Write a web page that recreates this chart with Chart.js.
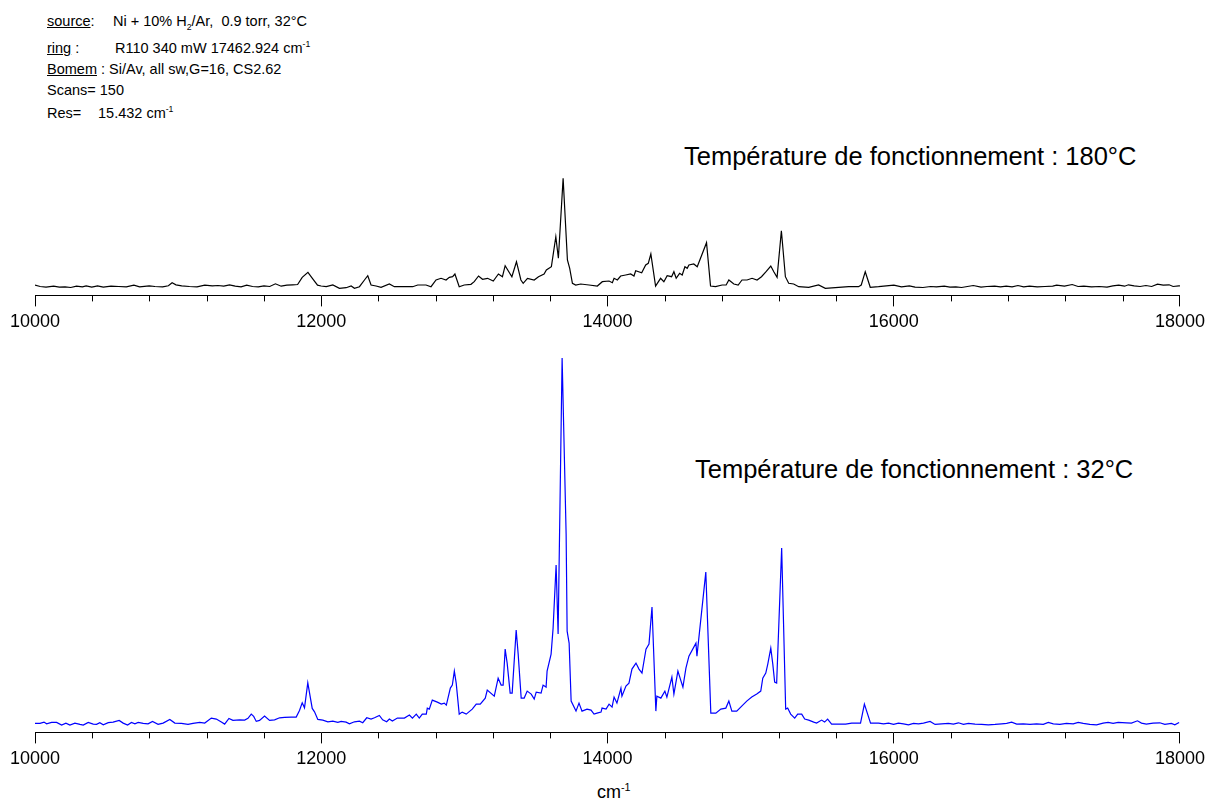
<!DOCTYPE html>
<html>
<head>
    <title>Spectres</title>
    <script src="https://cdn.jsdelivr.net/npm/chart.js"></script>
    <style>
        body { margin: 0; background: #fff; font-family: "Liberation Sans", Arial, sans-serif; color: #000; }
        .abs { position: absolute; white-space: pre; line-height: 1; }
        .hdr { font-size: 14.5px; }
        .big { font-size: 25.5px; }
        sub, sup { font-size: 60%; line-height: 0; }
        canvas { position: absolute; left: 0; }
    </style>
</head>
<body>
<div class="abs hdr" style="left:47px; top:14px;"><u>source</u>:</div>
<div class="abs hdr" style="left:113px; top:14px;">Ni + 10% H<sub>2</sub>/Ar,  0.9 torr, 32°C</div>
<div class="abs hdr" style="left:47px; top:41px;"><u>ring</u> :</div>
<div class="abs hdr" style="left:115px; top:41px;">R110 340 mW 17462.924 cm<sup>-1</sup></div>
<div class="abs hdr" style="left:47px; top:62px;"><u>Bomem</u> : Si/Av, all sw,G=16, CS2.62</div>
<div class="abs hdr" style="left:47px; top:83px;">Scans= 150</div>
<div class="abs hdr" style="left:47px; top:106px;">Res=</div>
<div class="abs hdr" style="left:98px; top:106px;">15.432 cm<sup>-1</sup></div>

<div class="abs big" style="left:684px; top:144px;">Température de fonctionnement : 180°C</div>
<div class="abs big" style="left:695px; top:457px;">Température de fonctionnement : 32°C</div>
<div class="abs" style="left:597px; top:783px; font-size:18px;">cm<sup>-1</sup></div>

<canvas id="hot" width="1210" height="178" style="top:160px;"></canvas>
<canvas id="cold" width="1210" height="435" style="top:340px;"></canvas>

<script>
    // 180°C spectrum (black, top)
    const topWavenumber = [10000, 10036, 10077, 10130, 10170, 10210, 10250, 10290, 10331, 10357, 10397, 10437, 10477, 10531, 10585, 10638, 10691, 10731, 10798, 10838, 10892, 10932, 10958, 10985, 11025, 11079, 11132, 11186, 11239, 11279, 11319, 11359, 11399, 11440, 11479, 11520, 11560, 11600, 11640, 11680, 11720, 11760, 11800, 11835, 11867, 11907, 11942, 11974,
        11999, 12035, 12081, 12127, 12174, 12209, 12232, 12267, 12302, 12325, 12348, 12383, 12418, 12476, 12511, 12569, 12639, 12674, 12732, 12767, 12802, 12837, 12872, 12895, 12918, 12934, 12964, 12999, 13046, 13069, 13099, 13127, 13162, 13202, 13238, 13266, 13285, 13332, 13364, 13395, 13411, 13441, 13488, 13518, 13557, 13573, 13608, 13639, 13657, 13690, 13720, 13736, 13755, 13778, 13813, 13871, 13929, 13964,
        14011, 14034, 14046, 14069, 14092, 14127, 14162, 14185, 14197, 14239, 14267, 14285, 14303, 14336, 14371, 14394, 14417, 14448, 14464, 14480, 14504, 14522, 14541, 14557, 14569, 14603, 14627, 14650, 14692, 14720, 14755, 14801, 14829, 14848, 14883, 14913, 14940, 14975, 15010, 15045, 15076, 15108, 15141, 15162, 15185, 15215, 15243, 15266, 15301, 15336, 15406, 15475, 15522, 15615, 15685, 15754, 15773, 15801, 15836, 15894,
        16001, 16054, 16109, 16149, 16204, 16258, 16298, 16353, 16393, 16434, 16474, 16515, 16556, 16610, 16651, 16705, 16746, 16786, 16827, 16868, 16908, 16949, 17003, 17057, 17111, 17138, 17193, 17247, 17288, 17328, 17382, 17437, 17490, 17531, 17572, 17613, 17640, 17680, 17721, 17762, 17802, 17843, 17883, 17924, 17952, 17992, 18000];
    const topIntensity = [1.3, 0, -0.7, 0.3, -0.7, -0.3, -1.0, 0.3, -0.3, 0.7, -0.7, 0.7, -0.7, 0.3, 0, -0.3, 1.3, -0.3, 0.7, 0, -0.3, 0.7, 3.7, 1.7, 0.7, 0, -0.3, 1.3, 0.7, 1.0, 0.3, 1.7, 0.3, -0.3, 1.3, 0, -0.3, 0.7, 0, 2.7, 0.3, 1.3, 1.7, 2.0, 9.1, 14.1, 7.4, 1.3,
        0.5, -0.2, 1.5, -1.8, -1.2, 0.5, -1.8, -0.2, 6.5, 10.8, 1.5, 0.5, -0.8, 2.5, -0.2, -0.2, -0.2, 1.5, 1.5, -0.2, 6.5, 8.2, 6.5, 9.2, 9.8, 12.5, -0.2, 1.5, 2.2, 4.8, 10.5, 7.2, 8.2, 5.5, 12.5, 9.8, 20.8, 9.8, 24.8, 6.5, 3.2, 8.2, 6.5, 9.8, 12.5, 16.5, 19.8, 49.8, 28.2, 108.2, 26.5, 18.2, 3.2, 1.5, 2.5, 1.5, 0.5, 4.8,
        5.5, 3.8, 8.2, 6.5, 10.5, 11.5, 12.5, 10.5, 15.8, 13.8, 21.5, 23.2, 32.5, 0.5, 8.2, 4.8, 10.8, 9.8, 14.8, 8.2, 13.2, 11.5, 19.8, 18.2, 21.5, 22.5, 19.8, 28.2, 43.8, 0.5, -0.2, 1.5, 1.5, 6.5, 2.5, 1.5, 6.5, 6.5, 8.2, 6.5, 9.8, 14.8, 20.5, 14.8, 9.2, 55.8, 9.8, 3.2, 2.5, -0.2, -0.8, 1.5, -1.8, -0.8, -0.2, -0.2, 1.5, 14.8, -0.8, -0.2,
        1.3, -0.3, 0.7, -0.7, -1.0, 0, -0.3, 0.3, -0.7, -0.3, -1.0, 0, 1.0, -0.7, 0, 0.3, -0.3, 0.3, -0.3, 1.0, -0.3, 0.3, -0.3, 0, 0.3, 1.3, 0.3, 2.0, 0, 0.3, -0.3, 0, -0.7, 0.7, 1.3, 0.3, 1.7, 0.7, 0, 1.0, 0, 2.3, 1.3, 1.7, 0, 0.7, 0.7];

    // 32°C spectrum (blue, bottom)
    const bottomWavenumber = [10000, 10035, 10063, 10081, 10116, 10151, 10186, 10216, 10244, 10279, 10314, 10337, 10372, 10407, 10430, 10453, 10477, 10512, 10546, 10588, 10616, 10647, 10674, 10698, 10721, 10756, 10790, 10821, 10860, 10895, 10942, 10977, 11023, 11069, 11104, 11151, 11186, 11232, 11267, 11302, 11325, 11355, 11383, 11430, 11465, 11488, 11511, 11528, 11546, 11569, 11604, 11639, 11674, 11709, 11744, 11790, 11825, 11848, 11867, 11883, 11906, 11937, 11953, 11976,
        12011, 12046, 12081, 12116, 12139, 12174, 12197, 12232, 12267, 12290, 12318, 12348, 12372, 12406, 12429, 12457, 12476, 12497, 12532, 12581, 12616, 12637, 12664, 12685, 12706, 12734, 12741, 12755, 12776, 12811, 12839, 12860, 12874, 12902, 12916, 12930, 12943, 12964, 12985, 13013, 13055, 13083, 13111, 13146, 13160, 13209, 13236, 13257, 13271, 13285, 13299, 13320, 13334, 13362, 13376, 13397, 13418, 13439, 13467, 13488, 13502, 13536, 13550, 13571, 13578, 13606, 13620, 13641, 13655, 13683, 13711, 13718, 13732, 13746, 13780, 13801, 13822, 13857, 13885, 13906, 13927, 13955, 13962, 13990,
        14011, 14032, 14046, 14066, 14094, 14101, 14129, 14150, 14171, 14199, 14220, 14241, 14269, 14290, 14311, 14338, 14345, 14373, 14401, 14415, 14450, 14464, 14492, 14527, 14548, 14569, 14618, 14625, 14687, 14722, 14757, 14792, 14827, 14848, 14869, 14903, 14938, 14973, 15008, 15043, 15071, 15085, 15106, 15120, 15141, 15155, 15168, 15182, 15217, 15245, 15259, 15280, 15308, 15329, 15357, 15378, 15406, 15441, 15461, 15496, 15517, 15538, 15566, 15615, 15664, 15706, 15768, 15795, 15838, 15894, 15929, 15964,
        15999, 16033, 16068, 16103, 16138, 16173, 16208, 16254, 16289, 16335, 16382, 16417, 16452, 16487, 16522, 16568, 16614, 16661, 16708, 16754, 16789, 16824, 16859, 16905, 16952, 16998, 17045, 17080, 17115, 17161, 17207, 17254, 17289, 17324, 17370, 17417, 17463, 17498, 17533, 17568, 17626, 17661, 17703, 17731, 17765, 17812, 17859, 17894, 17940, 17964, 17994, 18000];
    const bottomIntensity = [0, 0, 1.3, -0.4, 1.0, 1.0, -1.7, 0.3, -1.7, 0.3, -1.0, -1.7, 1.0, -0.7, -1.0, 0.7, -1.4, 0.7, 1.3, 3.0, 0.3, -1.7, 1.0, -0.4, 1.0, 0, -0.4, 2.0, -1.0, 0.3, 4.0, 0.3, 0, -1.0, 0, 1.0, 0.3, 5.3, 4.3, 1.3, -0.7, 5.0, 3.0, 3.6, 3.3, 5.0, 9.3, 7.0, 2.0, 3.0, 7.3, 3.0, 3.6, 5.6, 6.0, 6.3, 6.3, 13.0, 20.6, 15.6, 40.6, 15.0, 11.6, 4.0,
        3.3, 1.6, 2.3, 1.0, 2.0, 1.3, -0.4, 1.6, 2.3, 0.7, 5.6, 4.3, 5.6, 8.0, 3.6, 1.6, 4.3, 2.3, 5.3, 5.3, 8.3, 5.3, 9.3, 5.3, 9.3, 9.3, 15.3, 14.3, 23.3, 21.3, 19.3, 20.3, 18.3, 35.3, 38.3, 52.3, 40.3, 9.3, 11.3, 9.3, 14.3, 19.3, 19.3, 25.3, 33.3, 27.3, 45.3, 38.3, 38.3, 74.3, 60.3, 30.3, 30.3, 93.3, 69.3, 25.3, 25.3, 32.3, 29.3, 24.3, 31.3, 30.3, 38.3, 36.3, 52.3, 69.3, 95.3, 158.3, 89.3, 365.3, 189.3, 92.3, 80.3, 22.3, 12.3, 20.3, 12.3, 14.3, 13.3, 9.3, 10.3, 11.3, 15.3, 14.3,
        19.3, 16.3, 26.3, 20.3, 35.3, 27.3, 37.3, 40.3, 54.3, 60.3, 54.3, 50.3, 74.3, 79.3, 116.3, 12.3, 27.3, 25.3, 32.3, 26.3, 46.3, 29.3, 52.3, 36.3, 55.3, 67.3, 80.3, 67.3, 151.3, 10.3, 10.3, 14.3, 15.3, 22.3, 12.3, 12.3, 17.3, 22.3, 26.3, 29.3, 32.3, 45.3, 50.3, 59.3, 75.3, 59.3, 41.3, 40.3, 175.3, 14.3, 15.3, 9.3, 5.3, 9.3, 9.3, 4.3, 3.3, 1.3, 0.3, 3.3, 1.3, 4.3, -0.7, -0.7, -0.7, 0.3, 0.3, 19.3, 0.3, 0.3, -0.4, 0.3,
        -1.0, 0.3, -0.4, -1.4, 0, -0.4, 0.3, 2.0, -1.0, -0.4, 0, -0.7, 0.6, -1.0, 0, -0.7, -1.0, -1.4, -1.0, -0.4, 0, 1.3, -0.7, -0.4, -1.0, -0.4, -1.0, 1.0, -0.4, -1.0, 0, -0.4, 1.0, 0, -1.0, -1.4, 0.3, 1.0, 0, 1.0, 0.6, 0.3, 2.6, 0.3, -0.7, 0.3, 0.6, -1.0, 0, -1.4, 1.0, 1.0];

    const xMin = 10000;
    const xMax = 18000;

    // short minor ticks every 400 cm-1, placed with the chart's own x scale
    const minorTicks = {
        id: 'minorTicks',
        afterDraw(chart) {
            const scale = chart.scales.x;
            const ctx = chart.ctx;
            ctx.save();
            ctx.strokeStyle = '#000';
            ctx.lineWidth = 1;
            ctx.beginPath();
            for (let v = xMin; v <= xMax; v += 400) {
                if (v % 2000 === 0) continue;
                const px = Math.round(scale.getPixelForValue(v)) + 0.5;
                ctx.moveTo(px, scale.top);
                ctx.lineTo(px, scale.top + 6);
            }
            ctx.stroke();
            ctx.restore();
        }
    };

    function make_chart(id, wn, values, color, yMin, yMax) {
        const points = wn.map((w, i) => ({x: w, y: values[i]}));
        return new Chart(document.getElementById(id), {
            type: 'line',
            data: {
                datasets: [{
                    data: points,
                    borderColor: color,
                    borderWidth: 1.2,
                    pointRadius: 0,
                    tension: 0,
                    fill: false
                }]
            },
            options: {
                responsive: false,
                animation: false,
                devicePixelRatio: 1,
                layout: {padding: {top: 10, left: 35, right: 28, bottom: 0}},
                plugins: {legend: {display: false}, tooltip: {enabled: false}},
                scales: {
                    x: {
                        type: 'linear',
                        min: xMin,
                        max: xMax,
                        border: {display: true, color: '#000', width: 1},
                        grid: {drawOnChartArea: false, drawTicks: true, tickLength: 11, color: '#000'},
                        ticks: {
                            stepSize: 2000,
                            padding: 5,
                            color: '#000',
                            font: {family: '"Liberation Sans", Arial, sans-serif', size: 18},
                            callback: (v) => String(v)
                        }
                    },
                    y: {display: false, min: yMin, max: yMax}
                }
            },
            plugins: [minorTicks]
        });
    }

    const hot_chart = make_chart('hot', topWavenumber, topIntensity, '#000000', -8.9, 116.5);
    const cold_chart = make_chart('cold', bottomWavenumber, bottomIntensity, '#0000ff', -9.0, 373.4);
</script>
</body>
</html>
